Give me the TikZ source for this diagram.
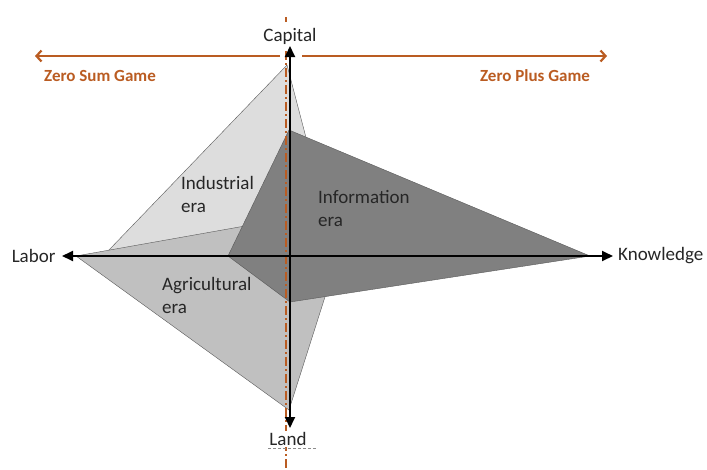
\documentclass[tikz,border=0pt]{standalone}
\usepackage{fontspec}
\setmainfont{Carlito}
\usepackage{tikz}
\usetikzlibrary{positioning,arrows.meta}

\definecolor{rust}{RGB}{186,92,34}
\definecolor{indfill}{RGB}{221,221,221}
\definecolor{agrfill}{RGB}{192,192,192}
\definecolor{inffill}{RGB}{128,128,128}

\begin{document}
\begin{tikzpicture}[x=1pt, y=-1pt,
        era/.style={draw=black!65, line width=0.4pt},
        axis/.style={line width=1.8pt, {Triangle[length=11pt,width=10pt]}-{Triangle[length=11pt,width=10pt]}},
        game/.style={draw=rust, line width=2.2pt, -{Straight Barb[length=5pt,width=11pt]}},
        divide/.style={draw=rust, line width=2.8pt, dash pattern=on 9pt off 3pt on 2pt off 3pt},
        axislabel/.style={font=\fontsize{19}{23}\selectfont, text=black!85},
        eralabel/.style={font=\fontsize{19}{23}\selectfont, align=left, anchor=north west, inner sep=0pt, text=black!85},
        gamelabel/.style={font=\fontsize{17}{20}\selectfont\bfseries, text=rust}
    ]
    \useasboundingbox (0,0) rectangle (707,469);

    % Era polygons, back to front
    \fill[indfill, era] (287,65) -- (325,210) -- (290,240) -- (108,251) -- cycle;
    \fill[agrfill, era] (76,256) -- (290,218) -- (338,256) -- (289,410) -- cycle;
    \fill[inffill, era] (289,130) -- (590,256) -- (290,302) -- (228,256) -- cycle;

    % Era names
    \node[eralabel] (ind) at (181,176) {Industrial\\era};
    \node[eralabel] (inf) at (318,190) {Information\\era};
    \node[eralabel] (agr) at (162,277) {Agricultural\\era};

    % Dividing line between the two games
    \coordinate (divTop) at (286,17);
    \coordinate (divBot) at (286,469);
    \draw[divide] (divTop) -- (divBot);

    % Top and bottom labels sit on white, over the dividing line
    \node[axislabel, fill=white, inner xsep=4pt, inner ysep=6pt] (capital) at (290,36) {Capital};
    \node[axislabel, fill=white, inner sep=1pt] (land) at (288,439) {Land};
    \draw[black!45, line width=0.5pt, densely dashed] ([yshift=-1pt]land.south west) -- ([yshift=-1pt,xshift=8pt]land.south east);

    % Axes ends
    \coordinate (laborEnd) at (62,256);
    \coordinate (knowEnd) at (613,256);
    \coordinate (capEnd) at (290,46);
    \coordinate (landEnd) at (290,428);

    \draw[axis] (laborEnd) -- (knowEnd);
    \draw[axis] (landEnd) -- (capEnd);

    \node[axislabel, left=3pt of laborEnd] (labor) {Labor};
    \node[axislabel, right=3pt of knowEnd, inner xsep=2pt] (knowledge) {Knowledge};

    % Zero sum / zero plus arrows
    \coordinate (sumStart) at (280,56);
    \coordinate (sumEnd) at (35,56);
    \coordinate (plusStart) at (302,56);
    \coordinate (plusEnd) at (607,56);
    \draw[game] (sumStart) -- (sumEnd);
    \draw[game] (plusStart) -- (plusEnd);

    \node[gamelabel] (zsg) at (100,76) {Zero Sum Game};
    \node[gamelabel] (zpg) at (535,76) {Zero Plus Game};

\end{tikzpicture}
\end{document}
